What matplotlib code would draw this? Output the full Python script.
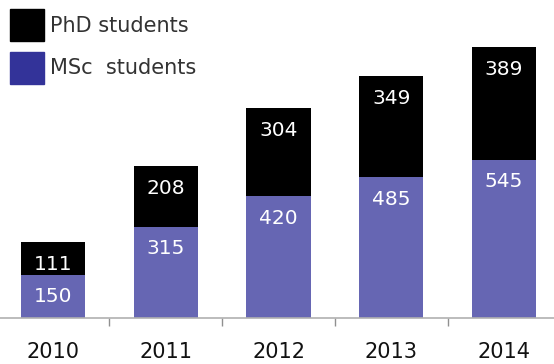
import matplotlib
matplotlib.use("Agg")
import matplotlib.pyplot as plt
from matplotlib.patches import Patch
import numpy as np

years = ["2010", "2011", "2012", "2013", "2014"]
msc = [150, 315, 420, 485, 545]
phd = [111, 208, 304, 349, 389]

msc_color = "#6666b3"
phd_color = "#000000"

W, H = 554, 364
fig = plt.figure(figsize=(W / 100, H / 100), dpi=100)

# axes spans slightly beyond the figure on both sides
x0 = 53 - 112.75 / 2
ax = fig.add_axes([x0 / W, (H - 318) / H, 5 * 112.75 / W, 1000 * 0.29 / H])

x = np.arange(len(years))
b1 = ax.bar(x, msc, width=0.57, color=msc_color)
b2 = ax.bar(x, phd, width=0.57, bottom=msc, color=phd_color)

for bars, vals in ((b1, msc), (b2, phd)):
    for rect, v in zip(bars, vals):
        top = rect.get_y() + rect.get_height()
        ax.annotate(str(v), (rect.get_x() + rect.get_width() / 2, top),
                    xytext=(0, -22 * 72 / 100), textcoords="offset points",
                    ha="center", va="center", color="white", fontsize=14.5)

ax.set_xlim(-0.5, len(years) - 0.5)
ax.set_ylim(0, 1000)
for s in ("top", "right", "left"):
    ax.spines[s].set_visible(False)
ax.spines["bottom"].set_color("#b0b0b0")
ax.spines["bottom"].set_linewidth(1.2)
ax.set_yticks([])

# year labels without tick marks, tick marks between categories
ax.set_xticks(x)
ax.set_xticklabels(years, fontsize=15, color="#111111")
ax.tick_params(axis="x", which="major", length=0, pad=17)
ax.set_xticks(np.arange(0.5, len(years) - 1, 1), minor=True)
ax.tick_params(axis="x", which="minor", length=6, color="#909090", width=1)

handles = [Patch(color=phd_color), Patch(color="#333399")]
leg = fig.legend(handles, ["PhD students", "MSc  students"],
                 loc="upper left", bbox_to_anchor=(2 / W, 1 - 1 / H),
                 frameon=False, fontsize=15, handlelength=1.6, handleheight=1.98,
                 handletextpad=0.3, labelspacing=0.5, borderaxespad=0)
for t in leg.get_texts():
    t.set_color("#333333")

fig.savefig("out.png", dpi=100)
